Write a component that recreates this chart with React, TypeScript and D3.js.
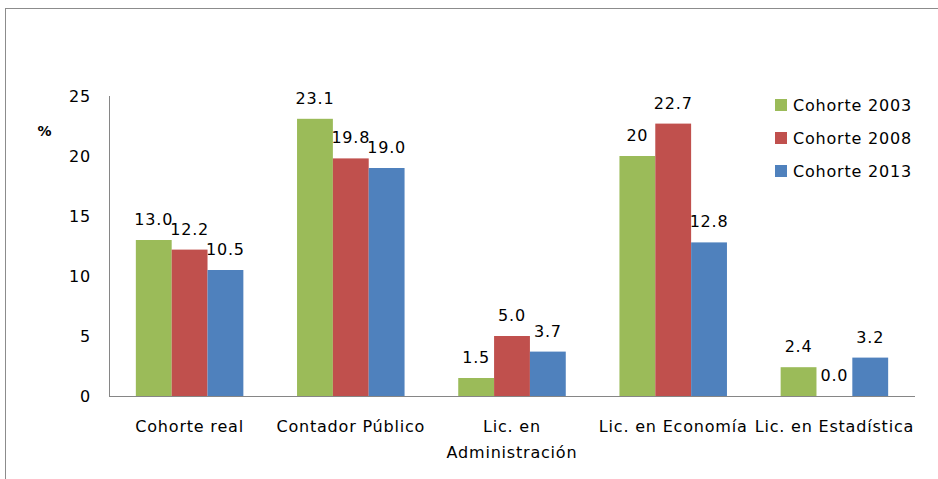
import React from "react";
import * as d3 from "d3";

const categories: string[][] = [
  ["Cohorte real"],
  ["Contador Público"],
  ["Lic. en", "Administración"],
  ["Lic. en Economía"],
  ["Lic. en Estadística"],
];
const seriesNames = ["Cohorte 2003", "Cohorte 2008", "Cohorte 2013"];
const seriesColors = ["#9BBB59", "#C0504D", "#4F81BD"];
const cohorte2003 = [13.0, 23.1, 1.5, 20, 2.4];
const cohorte2008 = [12.2, 19.8, 5.0, 22.7, 0.0];
const cohorte2013 = [10.5, 19.0, 3.7, 12.8, 3.2];
const valueLabels2003 = ["13.0", "23.1", "1.5", "20", "2.4"];
const valueLabels2008 = ["12.2", "19.8", "5.0", "22.7", "0.0"];
const valueLabels2013 = ["10.5", "19.0", "3.7", "12.8", "3.2"];
const yTicks = [0, 5, 10, 15, 20, 25];

const W = 938;
const H = 479;
const FONT = "'DejaVu Sans', Verdana, sans-serif";
const FS = 16;
const LS = 0.8;

export default function App() {
  const x0 = 109, x1 = 915, yTop = 96, yBottom = 396;
  const series = [cohorte2003, cohorte2008, cohorte2013];
  const labels = [valueLabels2003, valueLabels2008, valueLabels2013];

  const xBand = d3
    .scaleBand<number>()
    .domain(categories.map((_, i) => i))
    .range([x0, x1])
    .paddingInner(0.333)
    .paddingOuter(0.1665);
  const inner = d3
    .scaleBand<number>()
    .domain([0, 1, 2])
    .range([0, xBand.bandwidth()]);
  const y = d3.scaleLinear().domain([0, 25]).range([yBottom, yTop]);

  return (
    <svg
      width={W}
      height={H}
      style={{ position: "absolute", left: 0, top: 0, background: "#fff" }}
      fontFamily={FONT}
      letterSpacing={LS}
    >
      <rect x={5.5} y={8.5} width={W + 10} height={H + 10} fill="#fff" stroke="#8c8c8c" strokeWidth={1} />

      {/* value axis */}
      <line x1={x0 + 0.5} x2={x0 + 0.5} y1={yTop} y2={yBottom} stroke="#868686" />
      {yTicks.map((t) => (
        <text key={t} x={91} y={y(t)} dy="0.36em" textAnchor="end" fontSize={FS} fill="#000">
          {t}
        </text>
      ))}
      <text x={45} y={131} dy="0.36em" textAnchor="middle" fontSize={14} fontWeight="bold" fill="#000">
        %
      </text>

      {/* bars */}
      {series.map((vals, s) =>
        vals.map((v, i) => {
          const bx = (xBand(i) ?? 0) + (inner(s) ?? 0);
          const bw = inner.bandwidth();
          return (
            <g key={`${s}-${i}`}>
              <rect x={bx} y={y(v)} width={bw} height={yBottom - y(v)} fill={seriesColors[s]} />
              <text
                x={bx + bw / 2}
                y={y(v) - 15}
                textAnchor="middle"
                fontSize={FS}
                fill="#000"
              >
                {labels[s][i]}
              </text>
            </g>
          );
        })
      )}

      {/* category axis */}
      <line x1={x0} x2={x1} y1={yBottom + 0.5} y2={yBottom + 0.5} stroke="#868686" />
      {categories.map((lines, i) => (
        <text
          key={i}
          x={(xBand(i) ?? 0) + xBand.bandwidth() / 2}
          y={426}
          textAnchor="middle"
          fontSize={FS}
          fill="#000"
        >
          {lines.map((ln, k) => (
            <tspan key={k} x={(xBand(i) ?? 0) + xBand.bandwidth() / 2} dy={k === 0 ? "0.36em" : 26}>
              {ln}
            </tspan>
          ))}
        </text>
      ))}

      {/* legend */}
      {seriesNames.map((name, s) => (
        <g key={name} transform={`translate(775, ${105 + s * 33})`}>
          <rect x={0} y={-6} width={12} height={12} fill={seriesColors[s]} />
          <text x={18} y={0} dy="0.36em" fontSize={FS} fill="#000">
            {name}
          </text>
        </g>
      ))}
    </svg>
  );
}
